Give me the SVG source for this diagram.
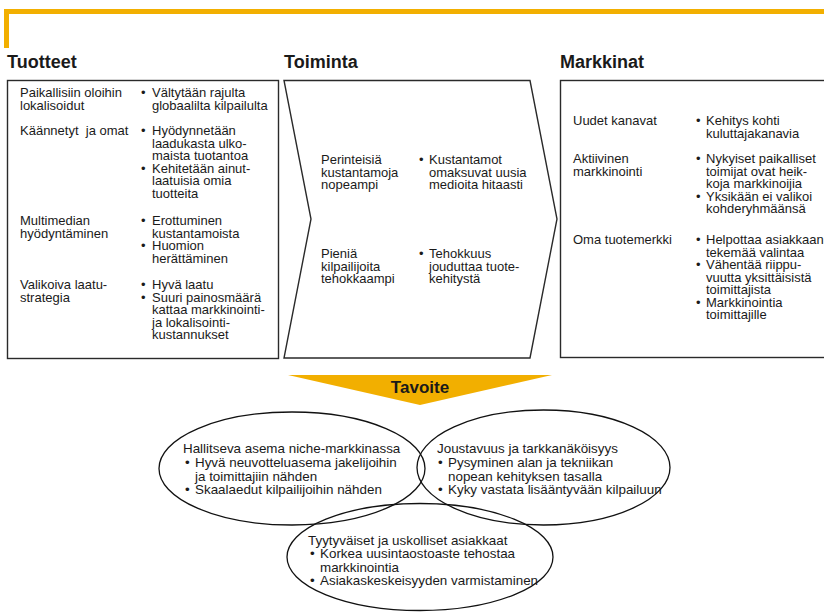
<svg xmlns="http://www.w3.org/2000/svg" width="824" height="613" viewBox="0 0 824 613">
<style>
text{font-family:"Liberation Sans",Arial,sans-serif;fill:#1a1a1a;font-size:13px}
.h{font-size:18px;font-weight:bold}
.t{font-size:17px;font-weight:bold}
.e{font-size:13.4px}
.box{fill:#fff;stroke:#2a2a2a;stroke-width:1.4}
.ell{fill:none;stroke:#111;stroke-width:1.3}
.or{fill:#F2AF00}
</style>
<rect width="824" height="613" fill="#fff"/>
<g id="frame">
<rect class="or" x="4" y="9" width="820" height="5"/>
<rect class="or" x="4" y="9" width="5" height="39"/>
</g>
<g id="tuotteet">
<text class="h" x="7" y="68">Tuotteet</text>
<rect class="box" x="7.5" y="80.5" width="271" height="278"/>
<text x="20" y="97">Paikallisiin oloihin</text>
<text x="20" y="109.5">lokalisoidut</text>
<text x="141" y="97">•</text>
<text x="152" y="97">Vältytään rajulta</text>
<text x="152" y="109.5">globaalilta kilpailulta</text>
<text x="20" y="135" xml:space="preserve">Käännetyt  ja omat</text>
<text x="141" y="135">•</text>
<text x="152" y="135">Hyödynnetään</text>
<text x="152" y="147.5">laadukasta ulko-</text>
<text x="152" y="160">maista tuotantoa</text>
<text x="141" y="172.5">•</text>
<text x="152" y="172.5">Kehitetään ainut-</text>
<text x="152" y="185">laatuisia omia</text>
<text x="152" y="197.5">tuotteita</text>
<text x="20" y="225">Multimedian</text>
<text x="20" y="237.5">hyödyntäminen</text>
<text x="141" y="225">•</text>
<text x="152" y="225">Erottuminen</text>
<text x="152" y="237.5">kustantamoista</text>
<text x="141" y="250">•</text>
<text x="152" y="250">Huomion</text>
<text x="152" y="262.5">herättäminen</text>
<text x="20" y="289">Valikoiva laatu-</text>
<text x="20" y="301.5">strategia</text>
<text x="141" y="289">•</text>
<text x="152" y="289">Hyvä laatu</text>
<text x="141" y="301.5">•</text>
<text x="152" y="301.5">Suuri painosmäärä</text>
<text x="152" y="314">kattaa markkinointi-</text>
<text x="152" y="326.5">ja lokalisointi-</text>
<text x="152" y="339">kustannukset</text>
</g>
<g id="toiminta">
<text class="h" x="284" y="68">Toiminta</text>
<polygon class="box" points="284,80.5 530,80.5 557,219 530,358 284,358 311,219"/>
<text x="321" y="164">Perinteisiä</text>
<text x="321" y="176.5">kustantamoja</text>
<text x="321" y="189">nopeampi</text>
<text x="419" y="164">•</text>
<text x="429" y="164">Kustantamot</text>
<text x="429" y="176.5">omaksuvat uusia</text>
<text x="429" y="189">medioita hitaasti</text>
<text x="321" y="258">Pieniä</text>
<text x="321" y="270.5">kilpailijoita</text>
<text x="321" y="283">tehokkaampi</text>
<text x="419" y="258">•</text>
<text x="429" y="258">Tehokkuus</text>
<text x="429" y="270.5">jouduttaa tuote-</text>
<text x="429" y="283">kehitystä</text>
</g>
<g id="markkinat">
<text class="h" x="560" y="68">Markkinat</text>
<rect class="box" x="560.5" y="80.5" width="280" height="277"/>
<text x="573" y="125">Uudet kanavat</text>
<text x="696" y="125">•</text>
<text x="706" y="125">Kehitys kohti</text>
<text x="706" y="137.5">kuluttajakanavia</text>
<text x="573" y="163">Aktiivinen</text>
<text x="573" y="175.5">markkinointi</text>
<text x="696" y="163">•</text>
<text x="706" y="163">Nykyiset paikalliset</text>
<text x="706" y="175.5">toimijat ovat heik-</text>
<text x="706" y="188">koja markkinoijia</text>
<text x="696" y="200.5">•</text>
<text x="706" y="200.5">Yksikään ei valikoi</text>
<text x="706" y="213">kohderyhmäänsä</text>
<text x="573" y="244">Oma tuotemerkki</text>
<text x="696" y="244">•</text>
<text x="706" y="244">Helpottaa asiakkaan</text>
<text x="706" y="256.5">tekemää valintaa</text>
<text x="696" y="269">•</text>
<text x="706" y="269">Vähentää riippu-</text>
<text x="706" y="281.5">vuutta yksittäisistä</text>
<text x="706" y="294">toimittajista</text>
<text x="696" y="306.5">•</text>
<text x="706" y="306.5">Markkinointia</text>
<text x="706" y="319">toimittajille</text>
</g>
<g id="tavoite">
<polygon class="or" points="288,375 552,375 420,405"/>
<text class="t" x="420" y="393" text-anchor="middle">Tavoite</text>
</g>
<g id="asema">
<ellipse class="ell" cx="292" cy="468.5" rx="133" ry="56.5"/>
<text class="e" x="183" y="453">Hallitseva asema niche-markkinassa</text>
<text class="e" x="185" y="467">•</text>
<text class="e" x="195" y="467">Hyvä neuvotteluasema jakelijoihin</text>
<text class="e" x="195" y="480.5">ja toimittajiin nähden</text>
<text class="e" x="185" y="494">•</text>
<text class="e" x="195" y="494">Skaalaedut kilpailijoihin nähden</text>
</g>
<g id="joustavuus">
<ellipse class="ell" cx="543.5" cy="467.5" rx="126.5" ry="57.5"/>
<text class="e" x="437" y="453">Joustavuus ja tarkkanäköisyys</text>
<text class="e" x="438" y="467">•</text>
<text class="e" x="448" y="467">Pysyminen alan ja tekniikan</text>
<text class="e" x="448" y="480.5">nopean kehityksen tasalla</text>
<text class="e" x="438" y="494">•</text>
<text class="e" x="448" y="494">Kyky vastata lisääntyvään kilpailuun</text>
</g>
<g id="asiakkaat">
<ellipse class="ell" cx="420" cy="557" rx="133" ry="53.5"/>
<text class="e" x="308" y="545">Tyytyväiset ja uskolliset asiakkaat</text>
<text class="e" x="310" y="558">•</text>
<text class="e" x="320" y="558">Korkea uusintaostoaste tehostaa</text>
<text class="e" x="320" y="571.5">markkinointia</text>
<text class="e" x="310" y="585">•</text>
<text class="e" x="320" y="585">Asiakaskeskeisyyden varmistaminen</text>
</g>
<g id="connectors"></g>
</svg>
